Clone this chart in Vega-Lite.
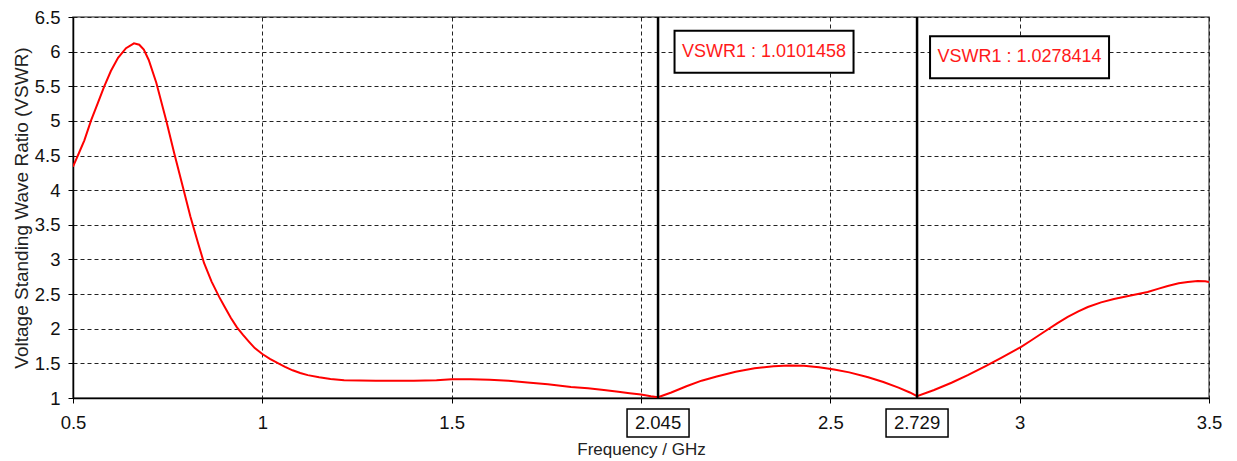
{
  "$schema": "https://vega.github.io/schema/vega-lite/v6.json",
  "width": 1136,
  "height": 381,
  "autosize": {"type": "none"},
  "padding": {"left": 73, "top": 17, "right": 28, "bottom": 63},
  "background": "white",
  "config": {
    "view": {"stroke": "#666666", "strokeWidth": 1.5},
    "font": "Liberation Sans",
    "axis": {
      "grid": true,
      "gridDash": [4, 3],
      "gridColor": "#222222",
      "gridWidth": 1,
      "gridOpacity": 1,
      "domainColor": "#000000",
      "domainWidth": 1.5,
      "tickColor": "#000000",
      "tickSize": 5,
      "tickWidth": 1,
      "labelFontSize": 18.5,
      "labelColor": "#111111",
      "labelFlush": false,
      "titleFontWeight": "normal",
      "titleColor": "#222222"
    }
  },
  "datasets": {
    "curve": [
      {"freq": 0.5, "vswr": 4.34},
      {"freq": 0.516, "vswr": 4.54},
      {"freq": 0.53, "vswr": 4.72},
      {"freq": 0.548, "vswr": 5.01},
      {"freq": 0.565, "vswr": 5.25},
      {"freq": 0.582, "vswr": 5.49},
      {"freq": 0.6, "vswr": 5.72},
      {"freq": 0.619, "vswr": 5.91},
      {"freq": 0.64, "vswr": 6.05},
      {"freq": 0.661, "vswr": 6.12},
      {"freq": 0.675, "vswr": 6.1},
      {"freq": 0.687, "vswr": 6.03},
      {"freq": 0.7, "vswr": 5.88},
      {"freq": 0.72, "vswr": 5.55},
      {"freq": 0.746, "vswr": 5.01},
      {"freq": 0.767, "vswr": 4.54},
      {"freq": 0.79, "vswr": 4.05},
      {"freq": 0.81, "vswr": 3.62},
      {"freq": 0.83, "vswr": 3.24},
      {"freq": 0.846, "vswr": 2.95},
      {"freq": 0.866, "vswr": 2.68},
      {"freq": 0.886, "vswr": 2.46},
      {"freq": 0.9, "vswr": 2.32},
      {"freq": 0.917, "vswr": 2.155},
      {"freq": 0.933, "vswr": 2.02},
      {"freq": 0.949, "vswr": 1.91},
      {"freq": 0.965, "vswr": 1.81},
      {"freq": 0.98, "vswr": 1.72},
      {"freq": 1.0, "vswr": 1.635},
      {"freq": 1.02, "vswr": 1.565},
      {"freq": 1.041, "vswr": 1.505},
      {"freq": 1.06, "vswr": 1.45},
      {"freq": 1.08, "vswr": 1.4},
      {"freq": 1.1, "vswr": 1.36},
      {"freq": 1.12, "vswr": 1.33},
      {"freq": 1.15, "vswr": 1.3},
      {"freq": 1.18, "vswr": 1.275},
      {"freq": 1.216, "vswr": 1.255},
      {"freq": 1.3, "vswr": 1.25},
      {"freq": 1.4, "vswr": 1.25},
      {"freq": 1.46, "vswr": 1.255},
      {"freq": 1.5, "vswr": 1.27},
      {"freq": 1.55, "vswr": 1.27},
      {"freq": 1.6, "vswr": 1.265},
      {"freq": 1.65, "vswr": 1.25},
      {"freq": 1.7, "vswr": 1.225},
      {"freq": 1.754, "vswr": 1.2},
      {"freq": 1.815, "vswr": 1.16},
      {"freq": 1.86, "vswr": 1.14},
      {"freq": 1.902, "vswr": 1.115},
      {"freq": 1.94, "vswr": 1.09},
      {"freq": 1.97, "vswr": 1.07},
      {"freq": 2.0, "vswr": 1.05},
      {"freq": 2.026, "vswr": 1.025},
      {"freq": 2.045, "vswr": 1.0101458},
      {"freq": 2.08, "vswr": 1.08},
      {"freq": 2.12, "vswr": 1.17},
      {"freq": 2.16, "vswr": 1.25},
      {"freq": 2.2, "vswr": 1.31},
      {"freq": 2.25, "vswr": 1.38},
      {"freq": 2.3, "vswr": 1.43},
      {"freq": 2.35, "vswr": 1.46},
      {"freq": 2.39, "vswr": 1.47},
      {"freq": 2.43, "vswr": 1.465},
      {"freq": 2.47, "vswr": 1.445},
      {"freq": 2.51, "vswr": 1.41},
      {"freq": 2.55, "vswr": 1.37},
      {"freq": 2.6, "vswr": 1.3},
      {"freq": 2.64, "vswr": 1.23},
      {"freq": 2.68, "vswr": 1.15},
      {"freq": 2.71, "vswr": 1.08},
      {"freq": 2.729, "vswr": 1.0278414},
      {"freq": 2.774, "vswr": 1.115},
      {"freq": 2.82, "vswr": 1.22},
      {"freq": 2.863, "vswr": 1.33},
      {"freq": 2.91, "vswr": 1.46},
      {"freq": 2.95, "vswr": 1.577},
      {"freq": 3.003, "vswr": 1.736},
      {"freq": 3.03, "vswr": 1.83},
      {"freq": 3.064, "vswr": 1.953},
      {"freq": 3.1, "vswr": 2.08},
      {"freq": 3.127, "vswr": 2.17},
      {"freq": 3.155, "vswr": 2.25},
      {"freq": 3.18, "vswr": 2.313},
      {"freq": 3.215, "vswr": 2.38},
      {"freq": 3.249, "vswr": 2.429},
      {"freq": 3.29, "vswr": 2.475},
      {"freq": 3.338, "vswr": 2.53},
      {"freq": 3.365, "vswr": 2.575},
      {"freq": 3.391, "vswr": 2.617},
      {"freq": 3.42, "vswr": 2.655},
      {"freq": 3.444, "vswr": 2.675},
      {"freq": 3.47, "vswr": 2.69},
      {"freq": 3.49, "vswr": 2.685},
      {"freq": 3.5, "vswr": 2.675}
    ],
    "markers": [
      {"freq": 2.045, "vswr": 1.0101458, "label": "VSWR1 : 1.0101458", "freqLabel": "2.045"},
      {"freq": 2.729, "vswr": 1.0278414, "label": "VSWR1 : 1.0278414", "freqLabel": "2.729"}
    ]
  },
  "resolve": {"axis": {"y": "shared", "x": "shared"}},
  "layer": [
    {
      "data": {"name": "curve"},
      "mark": {"type": "line", "color": "#ff0000", "strokeWidth": 2, "clip": true},
      "encoding": {
        "x": {
          "field": "freq",
          "type": "quantitative",
          "scale": {"domain": [0.5, 3.5], "nice": false, "zero": false},
          "axis": {
            "title": "Frequency / GHz",
            "titleFontSize": 17,
            "values": [0.5, 1, 1.5, 2, 2.5, 3, 3.5],
            "labelExpr": "datum.value == 2 ? '' : toString(datum.value)",
            "labelPadding": 10,
            "titlePadding": 10
          }
        },
        "y": {
          "field": "vswr",
          "type": "quantitative",
          "scale": {"domain": [1, 6.5], "nice": false, "zero": false},
          "axis": {
            "title": "Voltage Standing Wave Ratio (VSWR)",
            "titleFontSize": 19,
            "values": [1, 1.5, 2, 2.5, 3, 3.5, 4, 4.5, 5, 5.5, 6, 6.5],
            "labelExpr": "toString(datum.value)",
            "labelPadding": 8,
            "titlePadding": 3
          }
        }
      }
    },
    {
      "data": {"name": "markers"},
      "mark": {"type": "rule", "color": "#000000", "strokeWidth": 2.5},
      "encoding": {"x": {"field": "freq", "type": "quantitative"}}
    },
    {
      "data": {"name": "markers"},
      "transform": [{"filter": "datum.freq < 2.5"}],
      "mark": {"type": "point", "shape": "M-1,-0.2346H1V0.2346H-1Z", "size": 32041, "filled": true, "fill": "white", "stroke": "black", "strokeWidth": 2, "opacity": 1, "xOffset": 106},
      "encoding": {
        "x": {"field": "freq", "type": "quantitative"},
        "y": {"datum": 6.0, "type": "quantitative", "axis": {"title": "Voltage Standing Wave Ratio (VSWR)", "titleFontSize": 19, "values": [1, 1.5, 2, 2.5, 3, 3.5, 4, 4.5, 5, 5.5, 6, 6.5], "labelExpr": "toString(datum.value)", "labelPadding": 8, "titlePadding": 3}}
      }
    },
    {
      "data": {"name": "markers"},
      "transform": [{"filter": "datum.freq < 2.5"}],
      "mark": {"type": "text", "color": "#ff1a1a", "fontSize": 18, "align": "center", "baseline": "middle", "xOffset": 106},
      "encoding": {
        "x": {"field": "freq", "type": "quantitative"},
        "y": {"datum": 6.0, "type": "quantitative", "axis": {"title": "Voltage Standing Wave Ratio (VSWR)", "titleFontSize": 19, "values": [1, 1.5, 2, 2.5, 3, 3.5, 4, 4.5, 5, 5.5, 6, 6.5], "labelExpr": "toString(datum.value)", "labelPadding": 8, "titlePadding": 3}},
        "text": {"field": "label"}
      }
    },
    {
      "data": {"name": "markers"},
      "transform": [{"filter": "datum.freq > 2.5"}],
      "mark": {"type": "point", "shape": "M-1,-0.2346H1V0.2346H-1Z", "size": 32041, "filled": true, "fill": "white", "stroke": "black", "strokeWidth": 2, "opacity": 1, "xOffset": 102.5},
      "encoding": {
        "x": {"field": "freq", "type": "quantitative"},
        "y": {"datum": 5.92, "type": "quantitative", "axis": {"title": "Voltage Standing Wave Ratio (VSWR)", "titleFontSize": 19, "values": [1, 1.5, 2, 2.5, 3, 3.5, 4, 4.5, 5, 5.5, 6, 6.5], "labelExpr": "toString(datum.value)", "labelPadding": 8, "titlePadding": 3}}
      }
    },
    {
      "data": {"name": "markers"},
      "transform": [{"filter": "datum.freq > 2.5"}],
      "mark": {"type": "text", "color": "#ff1a1a", "fontSize": 18, "align": "center", "baseline": "middle", "xOffset": 102.5},
      "encoding": {
        "x": {"field": "freq", "type": "quantitative"},
        "y": {"datum": 5.92, "type": "quantitative", "axis": {"title": "Voltage Standing Wave Ratio (VSWR)", "titleFontSize": 19, "values": [1, 1.5, 2, 2.5, 3, 3.5, 4, 4.5, 5, 5.5, 6, 6.5], "labelExpr": "toString(datum.value)", "labelPadding": 8, "titlePadding": 3}},
        "text": {"field": "label"}
      }
    },
    {
      "data": {"name": "markers"},
      "mark": {"type": "point", "shape": "M-1,-0.4516H1V0.4516H-1Z", "size": 3844, "filled": true, "fill": "white", "stroke": "black", "strokeWidth": 1.5, "opacity": 1, "yOffset": 25},
      "encoding": {
        "x": {"field": "freq", "type": "quantitative"},
        "y": {"datum": 1, "type": "quantitative", "axis": {"title": "Voltage Standing Wave Ratio (VSWR)", "titleFontSize": 19, "values": [1, 1.5, 2, 2.5, 3, 3.5, 4, 4.5, 5, 5.5, 6, 6.5], "labelExpr": "toString(datum.value)", "labelPadding": 8, "titlePadding": 3}}
      }
    },
    {
      "data": {"name": "markers"},
      "mark": {"type": "text", "color": "#111111", "fontSize": 18.5, "align": "center", "baseline": "middle", "yOffset": 25},
      "encoding": {
        "x": {"field": "freq", "type": "quantitative"},
        "y": {"datum": 1, "type": "quantitative", "axis": {"title": "Voltage Standing Wave Ratio (VSWR)", "titleFontSize": 19, "values": [1, 1.5, 2, 2.5, 3, 3.5, 4, 4.5, 5, 5.5, 6, 6.5], "labelExpr": "toString(datum.value)", "labelPadding": 8, "titlePadding": 3}},
        "text": {"field": "freqLabel"}
      }
    }
  ]
}
